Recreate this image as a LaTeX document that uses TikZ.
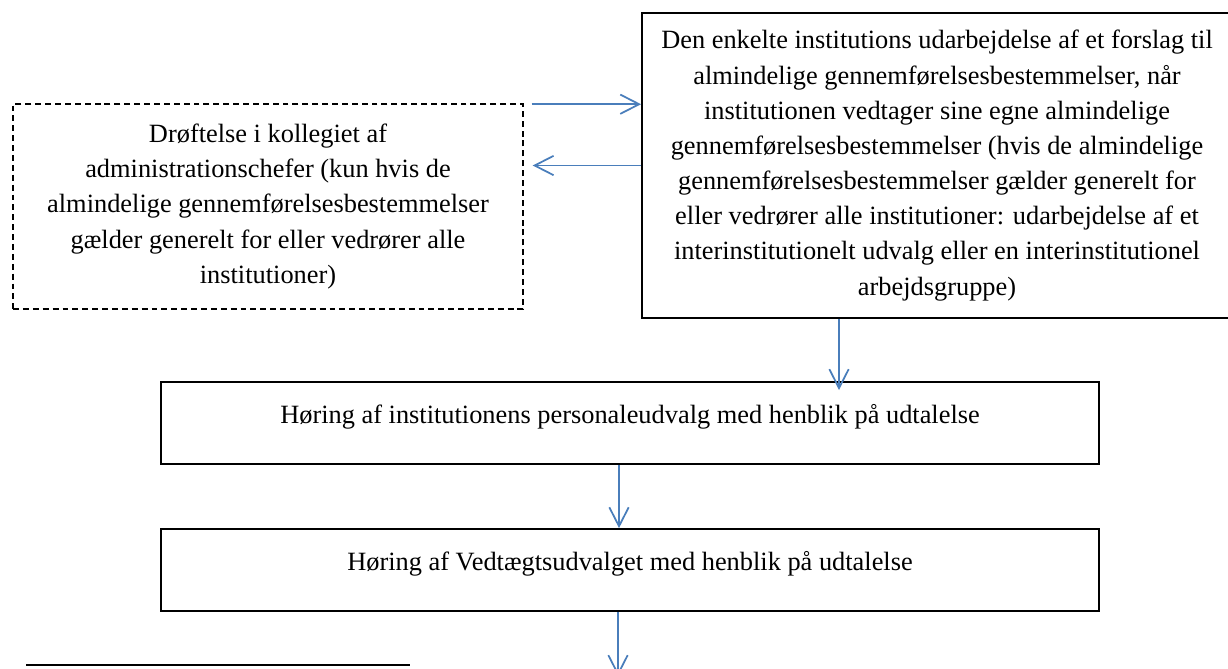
\documentclass[tikz,border=0pt]{standalone}
\usepackage{fontspec}
\setmainfont{Liberation Serif}
\usetikzlibrary{arrows.meta,calc}
\definecolor{arrowblue}{RGB}{74,126,187}

\begin{document}
\begin{tikzpicture}[x=0.455pt, y=-0.455pt,
        box/.style={draw, line width=0.8pt, inner sep=0pt, align=center, font=\fontsize{12}{16}\selectfont},
        flow/.style={draw=arrowblue, line width=0.8pt, -{Straight Barb[length=8.6pt,width=8.8pt]}}]
        \useasboundingbox (0,0) rectangle (1228,668);

        % Boxes at fixed positions
        \node (proposal) [box, minimum width=268.5pt, minimum height=138.8pt] at (937,165.5) {Den enkelte institutions udarbejdelse af et forslag til\\almindelige gennemførelsesbestemmelser, når\\institutionen vedtager sine egne almindelige\\gennemførelsesbestemmelser (hvis de almindelige\\gennemførelsesbestemmelser gælder generelt for\\eller vedrører alle institutioner: udarbejdelse af et\\interinstitutionelt udvalg eller en interinstitutionel\\arbejdsgruppe)};
        \node (consult) [box, line width=0.7pt, dash pattern=on 2.7pt off 1.8pt, minimum width=232pt, minimum height=93.3pt] at (268,206.5) {Drøftelse i kollegiet af\\administrationschefer (kun hvis de\\almindelige gennemførelsesbestemmelser\\gælder generelt for eller vedrører alle\\institutioner)};
        \node (staff) [box, text height=9pt, text depth=8.4pt, minimum width=426.8pt, minimum height=37.3pt] at (630,423) {Høring af institutionens personaleudvalg med henblik på udtalelse};
        \node (statute) [box, text height=9pt, text depth=8.4pt, minimum width=426.8pt, minimum height=37.3pt] at (630,570) {Høring af Vedtægtsudvalget med henblik på udtalelse};

        % Free ends
        \coordinate (toprop) at ($(consult.north east)+(8,1)$);
        \coordinate (hearend) at (839,390);
        \coordinate (offpage) at (618,676);

        % Edges
        \draw[flow] (toprop) -- (toprop -| proposal.west);
        \draw[flow] (proposal.west) -- ($(proposal.west -| consult.east)+(9,0)$);
        \draw[flow] (hearend |- proposal.south) -- (hearend);
        \draw[flow] ($(staff.south)+(-11,0)$) -- ($(statute.north)+(-11,0)$);
        \draw[flow] (offpage |- statute.south) -- (offpage);

        % Footnote rule
        \draw[line width=0.9pt] (26,665) -- (410,665);

    \end{tikzpicture}
\end{document}
